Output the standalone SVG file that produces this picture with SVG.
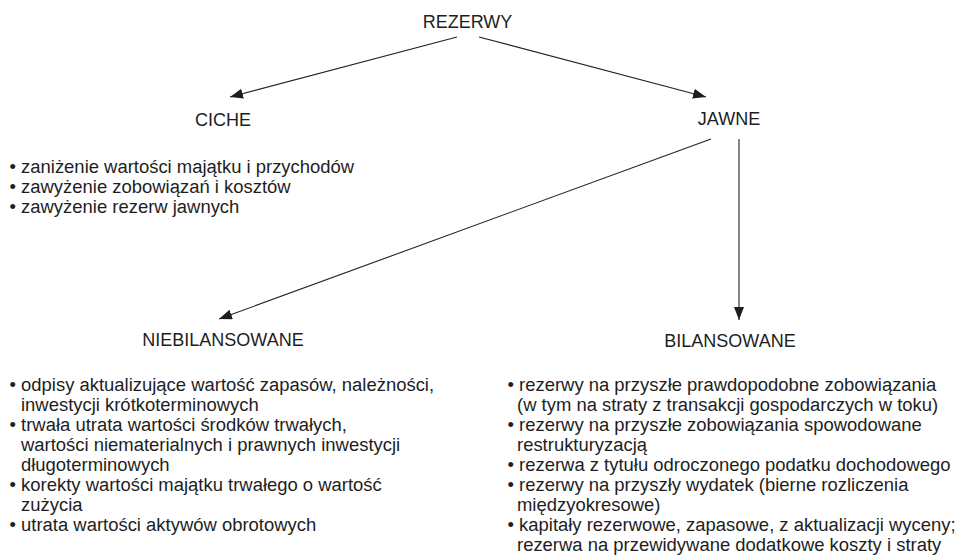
<svg xmlns="http://www.w3.org/2000/svg" width="955" height="559" viewBox="0 0 955 559">
<style>
text{font-family:"Liberation Sans",Arial,Helvetica,sans-serif;font-size:18px;fill:#1e1e1e}
.h{text-anchor:middle}
.b{font-size:18.45px}
.c{stroke:#222;stroke-width:1.1;fill:none}
</style>
<defs>
<marker id="ah" markerUnits="userSpaceOnUse" markerWidth="14" markerHeight="11" refX="13" refY="5" orient="auto">
<path d="M0,0 L13,5 L0,10 z" fill="#1e1e1e"/>
</marker>
</defs>
<rect width="955" height="559" fill="#fff"/>
<g id="connectors">
<line class="c" x1="457" y1="37" x2="230" y2="97" marker-end="url(#ah)"/>
<line class="c" x1="479" y1="37" x2="706" y2="97" marker-end="url(#ah)"/>
<line class="c" x1="711" y1="139" x2="219" y2="319" marker-end="url(#ah)"/>
<line class="c" x1="739" y1="139" x2="739" y2="320" marker-end="url(#ah)"/>
</g>
<g id="rezerwy"><text class="h" x="467.5" y="28">REZERWY</text></g>
<g id="ciche">
<text class="h" x="223" y="126">CICHE</text>
<text class="b" x="9.5" y="173">• zaniżenie wartości majątku i przychodów</text>
<text class="b" x="9.5" y="193">• zawyżenie zobowiązań i kosztów</text>
<text class="b" x="9.5" y="213">• zawyżenie rezerw jawnych</text>
</g>
<g id="jawne"><text class="h" x="729" y="125">JAWNE</text></g>
<g id="niebilansowane">
<text class="h" x="223" y="346">NIEBILANSOWANE</text>
<text class="b" x="9.5" y="391">• odpisy aktualizujące wartość zapasów, należności,</text>
<text class="b" x="21" y="411">inwestycji krótkoterminowych</text>
<text class="b" x="9.5" y="431">• trwała utrata wartości środków trwałych,</text>
<text class="b" x="21" y="451">wartości niematerialnych i prawnych inwestycji</text>
<text class="b" x="21" y="471">długoterminowych</text>
<text class="b" x="9.5" y="491">• korekty wartości majątku trwałego o wartość</text>
<text class="b" x="21" y="511">zużycia</text>
<text class="b" x="9.5" y="531">• utrata wartości aktywów obrotowych</text>
</g>
<g id="bilansowane">
<text class="h" x="730" y="347">BILANSOWANE</text>
<text class="b" x="507.5" y="391">• rezerwy na przyszłe prawdopodobne zobowiązania</text>
<text class="b" x="517" y="411">(w tym na straty z transakcji gospodarczych w toku)</text>
<text class="b" x="507.5" y="431">• rezerwy na przyszłe zobowiązania spowodowane</text>
<text class="b" x="517" y="451">restrukturyzacją</text>
<text class="b" x="507.5" y="471">• rezerwa z tytułu odroczonego podatku dochodowego</text>
<text class="b" x="507.5" y="491">• rezerwy na przyszły wydatek (bierne rozliczenia</text>
<text class="b" x="517" y="511">międzyokresowe)</text>
<text class="b" x="507.5" y="531">• kapitały rezerwowe, zapasowe, z aktualizacji wyceny;</text>
<text class="b" x="517" y="551">rezerwa na przewidywane dodatkowe koszty i straty</text>
</g>
</svg>
